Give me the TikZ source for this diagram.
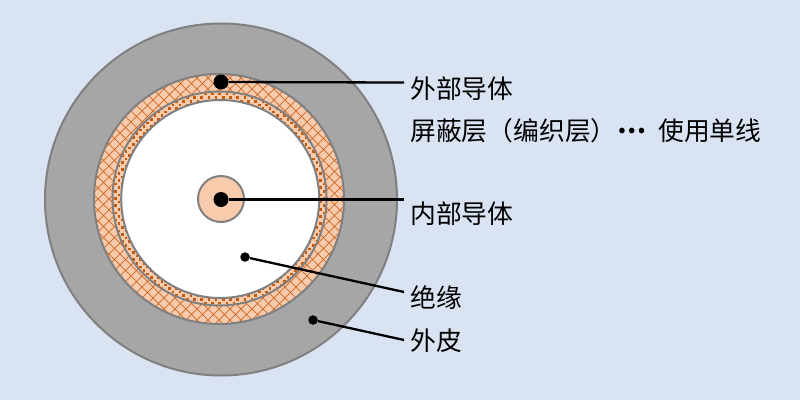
\documentclass[tikz,border=0pt]{standalone}
\usepackage{fontspec}
\usetikzlibrary{calc}
\newfontfamily\cjk{Noto Sans CJK SC}
\definecolor{bgblue}{HTML}{D9E3F2}
\definecolor{jacket}{HTML}{A6A6A6}
\definecolor{rim}{HTML}{808080}
\definecolor{copper}{HTML}{F8CBAD}
\definecolor{braid}{HTML}{C55A11}
\tikzset{
  layer/.style={circle,draw=rim,line width=2pt,minimum size=#1,inner sep=0pt},
  bigdot/.style={circle,fill=black,minimum size=15pt,inner sep=0pt},
  smalldot/.style={circle,fill=black,minimum size=9.5pt,inner sep=0pt},
  lbl/.style={anchor=west,inner sep=0pt,font=\cjk\fontsize{25.8}{30}\selectfont,text=black},
  lead/.style={draw=black,line width=2.3pt}
}
\begin{document}
\begin{tikzpicture}[x=1pt,y=-1pt]
\useasboundingbox (0,0) rectangle (800,400);
\fill[bgblue] (0,0) rectangle (800,400);
\coordinate (c) at (221,199.5);
\coordinate (cb) at (219,199);
\coordinate (ci) at (219.5,198.5);
\coordinate (cw) at (220.2,199);
\node[layer=352pt,fill=jacket] (skin) at (c) {};
\fill[copper] (cb) circle (125);
\begin{scope}
  \clip (cb) circle (125);
  \foreach \k in {-30,...,30}{
    \draw[braid,line width=0.75pt,opacity=.75] ($(cb)+(\k*11-150,-150)$) -- ++(300,300);
    \draw[braid,line width=0.75pt,opacity=.75] ($(cb)+(\k*11+150,-150)$) -- ++(-300,300);
  }
\end{scope}
\node[layer=250pt] (shieldrim) at (cb) {};
\node[layer=214pt,fill=copper] (inner) at (ci) {};
\begin{scope}
  \clip (ci) circle (106);
  \foreach \k in {-32,...,32}{
    \pgfmathsetmacro{\ph}{mod(\k+40,2)*3.6}
    \draw[braid,line width=2.7pt,dash pattern=on 2.7pt off 4.5pt,dash phase=\ph pt]
      ($(ci)+(-120,\k*3.6)$) -- ++(240,0);
  }
\end{scope}
\node[layer=198pt,fill=white] (diel) at (cw) {};
\node[layer=46pt,fill=copper] (core) at (221,199) {};
\node[bigdot] (d1) at (221,82) {};
\node[bigdot] (d2) at (221,199.5) {};
\node[smalldot] (d3) at (245,257) {};
\node[smalldot] (d4) at (313,320) {};
\node[lbl] (t1) at (410,89) {外部导体};
\node[lbl] (t2) at (410,131) {屏蔽层（编织层）};
\node[lbl] (t2b) at (617,131) {{\fontsize{25.8}{30}\selectfont\bfseries ⋯}};
\node[lbl] (t2c) at (658,131) {使用单线};
\node[lbl] (t3) at (410,214) {内部导体};
\node[lbl] (t4) at (410,298) {绝缘};
\node[lbl] (t5) at (410,341) {外皮};
\coordinate (e1) at (404,82.5);
\coordinate (e2) at (404,199.5);
\coordinate (e3) at (404,292);
\coordinate (e4) at (404,340);
\draw[lead] (d1) -- (e1);
\draw[lead] (d2) -- (e2);
\draw[lead] (d3) -- (e3);
\draw[lead] (d4) -- (e4);
\end{tikzpicture}
\end{document}
